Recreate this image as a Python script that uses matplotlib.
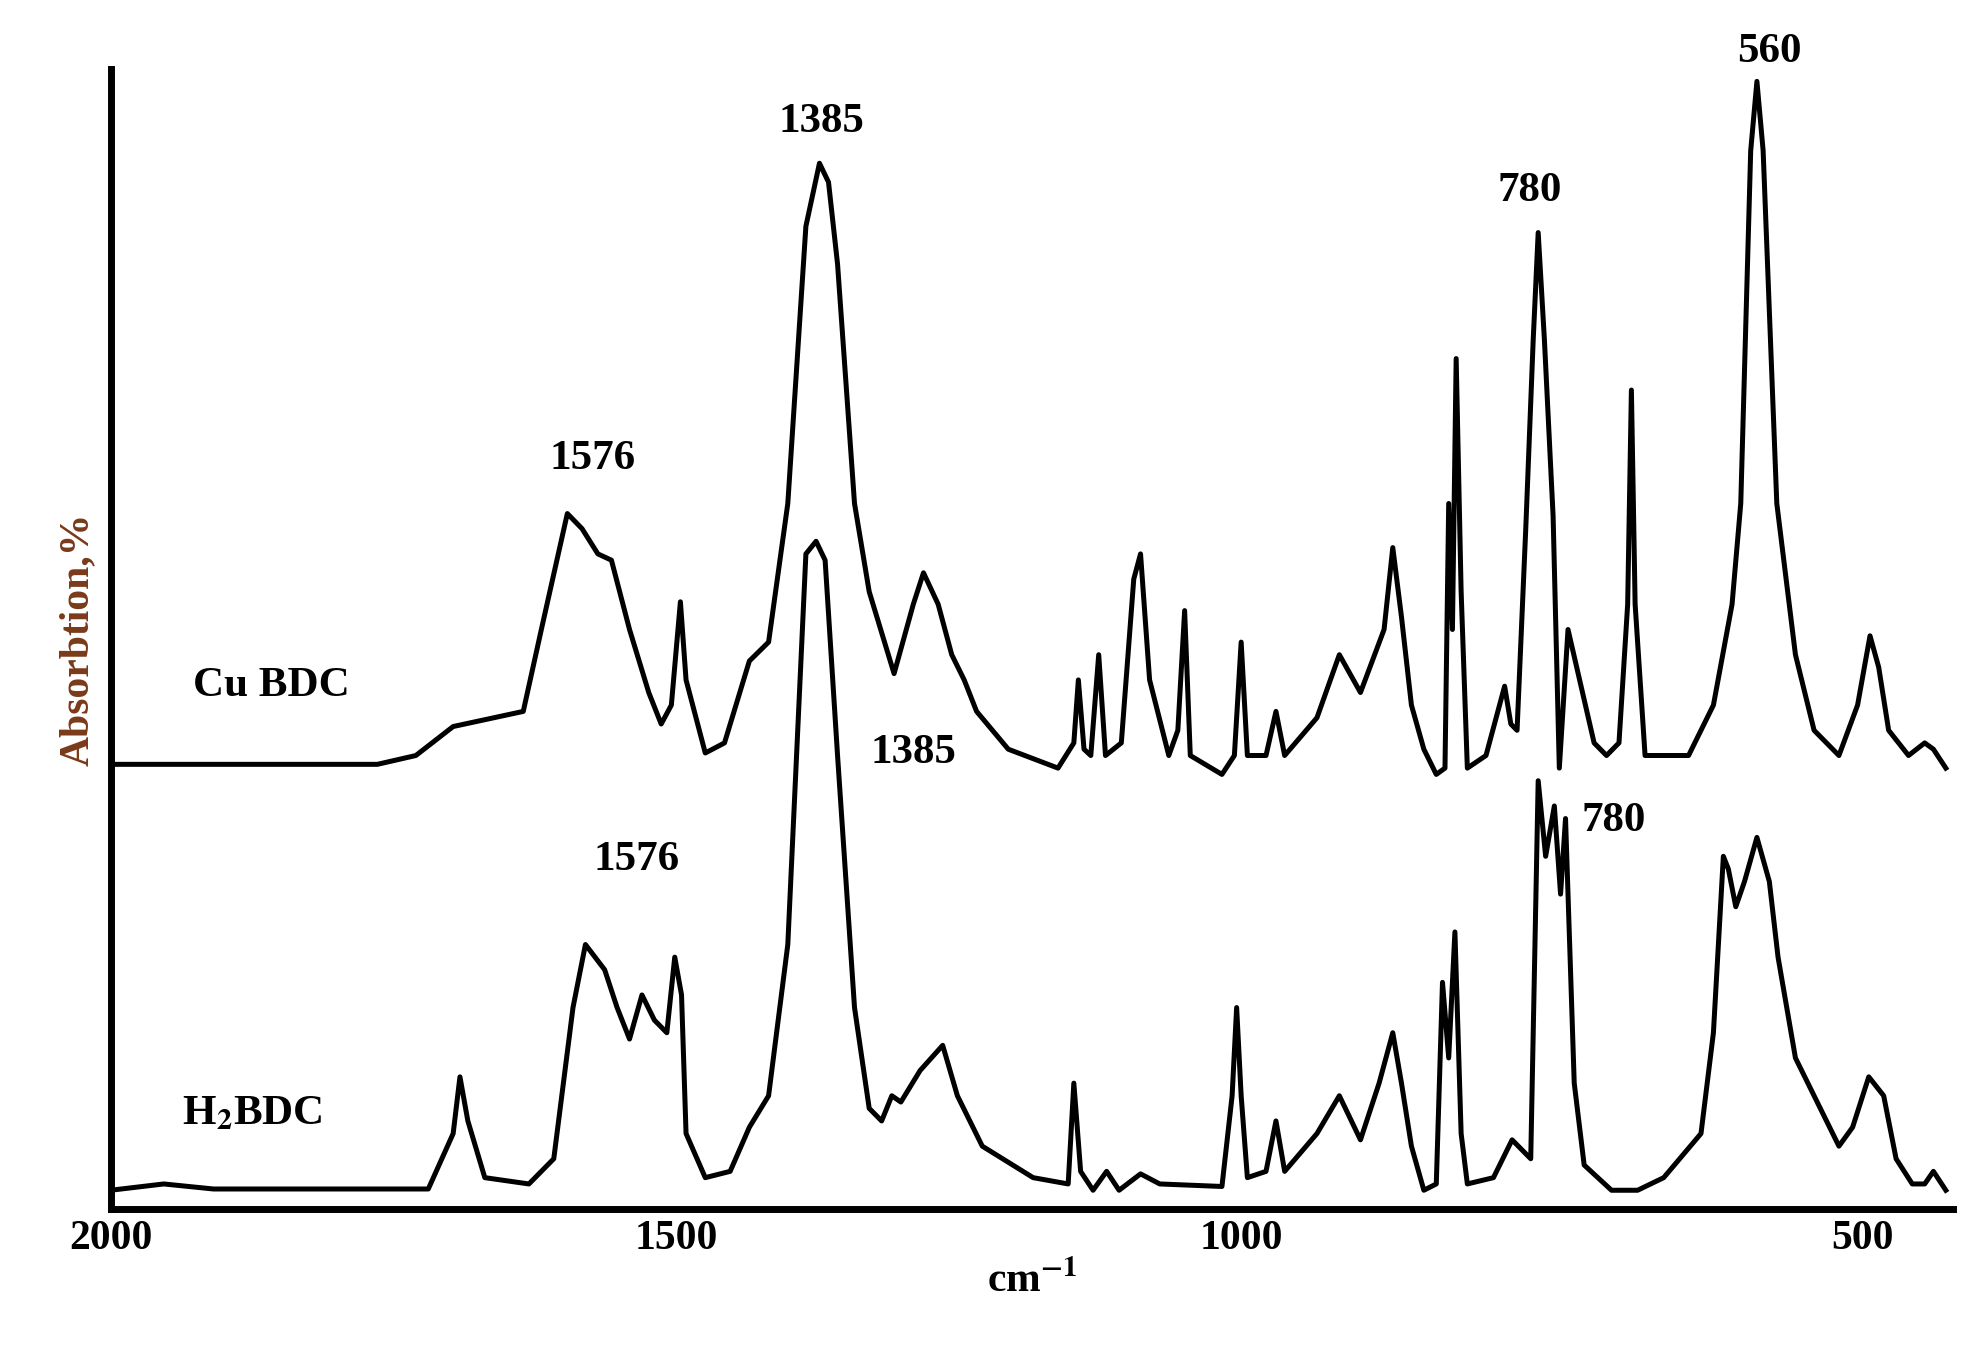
import numpy as np
import matplotlib
matplotlib.use("Agg")
import matplotlib.pyplot as plt

cu_w = [2000,1764,1730,1697,1635,1619,1596,1583,1569,1557,1541,1524,1513,1504,1496,1491,1474,1457,1435,1418,1401,1385,1373,1365,1357,1342,1329,1307,1290,1281,1268,1256,1245,1234,1206,1162,1148,1144,1139,1133,1126,1120,1106,1095,1089,1081,1064,1056,1050,1045,1017,1006,1000,995,980,972,965,939,921,904,885,878,871,863,853,843,836,833,830,827,823,818,803,788,783,778,771,765,761,756,749,744,737,730,716,706,696,689,686,683,675,640,620,605,598,590,585,580,569,554,539,519,504,494,487,479,463,450,443,433]
cu_a = [353,353,360,383,395,460,552,540,520,515,460,410,385,400,482,420,362,370,435,450,560,780,830,815,750,560,490,425,480,505,480,440,420,395,365,350,370,420,365,360,440,360,370,500,520,420,360,380,475,360,345,360,450,360,360,395,360,390,440,410,460,525,470,400,365,345,350,560,460,675,490,350,360,415,385,380,540,690,775,690,550,350,460,430,370,360,370,480,650,480,360,360,400,480,560,840,895,840,560,440,380,360,400,455,430,380,360,370,365,350]

h2_w = [2000,1953,1909,1719,1697,1691,1684,1669,1630,1608,1591,1580,1563,1552,1541,1530,1519,1508,1501,1495,1491,1474,1452,1435,1418,1401,1385,1376,1368,1357,1342,1329,1318,1309,1301,1284,1264,1251,1229,1184,1153,1148,1142,1131,1119,1108,1089,1072,1017,1008,1004,1000,995,980,972,965,939,921,904,889,878,871,863,853,843,838,833,828,823,818,797,782,767,761,755,748,743,739,732,724,702,681,660,630,620,612,608,602,595,585,575,568,554,534,519,508,495,483,473,460,450,443,433]
h2_a = [15,20,16,16,60,105,70,25,20,40,160,210,190,160,135,170,150,140,200,170,60,25,30,65,90,210,520,530,515,360,160,80,70,90,85,110,130,90,50,25,20,100,30,15,30,15,28,20,18,90,160,90,25,30,70,30,60,90,55,100,140,100,50,15,20,180,120,220,60,20,25,55,40,340,280,320,250,310,100,35,15,15,25,60,140,280,270,240,260,295,260,200,120,80,50,65,105,90,40,20,20,30,15]

ticks = [2000, 1500, 1000, 500]
ticklabels = ["2000", "1500", "1000", "500"]

# piecewise-linear axis position (reference axis is slightly nonuniform)
kw = np.array([2000.0, 1000.0, 427.0])
kp = np.array([0.0, 897.0, 1462.0])
def fwd(w):
    return np.interp(-np.asarray(w, float), -kw, kp)

plt.rcParams["mathtext.fontset"] = "stix"
fig = plt.figure(figsize=(19.75, 13.48), dpi=100)
ax = fig.add_axes([0.056, 0.103, 0.933, 0.846])
ax.plot(fwd(cu_w), cu_a, color="black", lw=3.6, solid_joinstyle="round")
ax.plot(fwd(h2_w), h2_a, color="black", lw=3.6, solid_joinstyle="round")
ax.set_xlim(0, 1462)
ax.set_ylim(0, 905)
for s in ["top", "right"]:
    ax.spines[s].set_visible(False)
ax.spines["left"].set_linewidth(5)
ax.spines["bottom"].set_linewidth(5)
ax.set_yticks([])
ax.set_xticks(fwd(ticks))
ax.set_xticklabels(ticklabels)
ax.tick_params(axis="x", length=0, pad=8)
font = dict(family="Liberation Serif", weight="bold")
for t in ax.get_xticklabels():
    t.set_fontfamily("Liberation Serif"); t.set_fontweight("bold"); t.set_fontsize(30)
ax.set_xlabel("cm$^{\\mathbf{-1}}$", fontsize=30, labelpad=2, **font)
ax.set_ylabel("Absorbtion,%", fontsize=30, color="#7a3a1a", labelpad=10, **font)

anns = [("1576", 1574, 595), ("1385", 1371, 863), ("780", 768, 808), ("560", 575, 918),
        ("Cu BDC", 1858, 415), ("1576", 1535, 277), ("1385", 1290, 362), ("780", 700, 308),
        ("H$_{\\mathbf{2}}$BDC", 1875, 75)]
for txt, x, y in anns:
    ax.text(float(fwd(x)), y, txt, ha="center", va="center", fontsize=31, clip_on=False, **font)

fig.savefig("out.png", dpi=100)
